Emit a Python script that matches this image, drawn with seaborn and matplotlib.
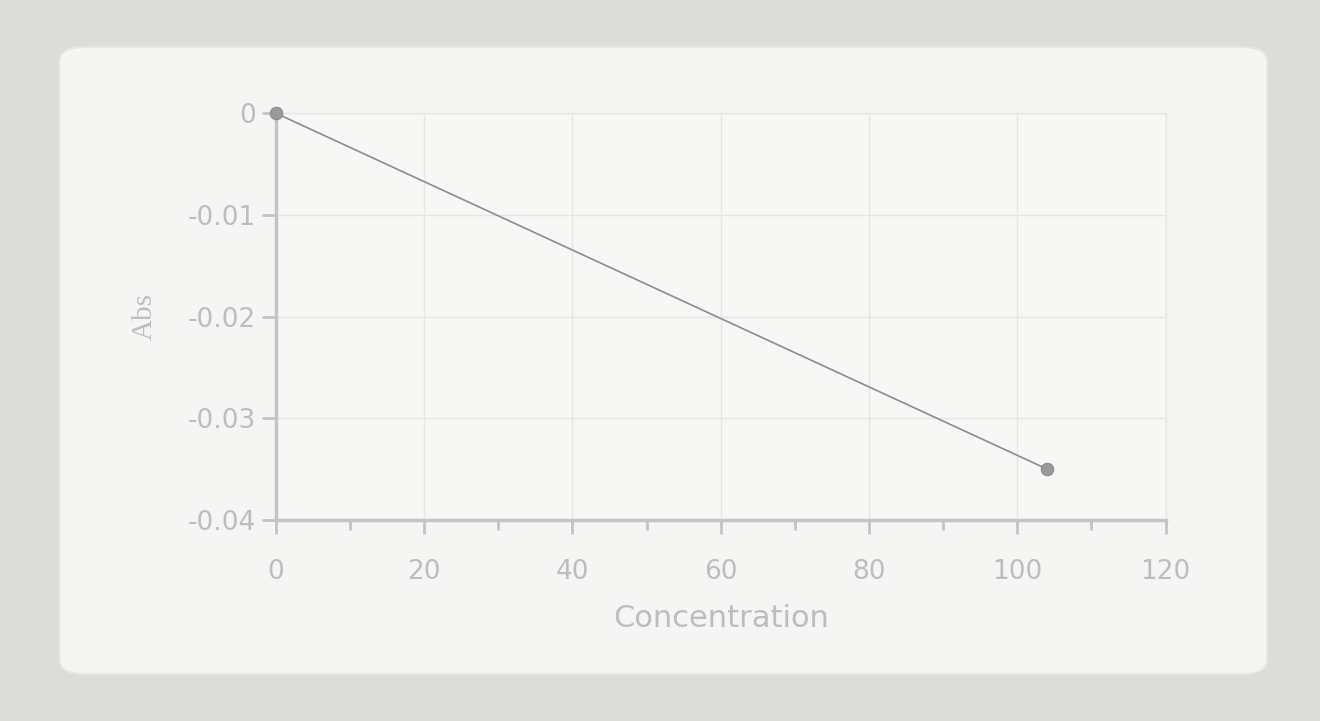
import matplotlib
matplotlib.use("Agg")
import matplotlib.pyplot as plt
from matplotlib.patches import FancyBboxPatch
from matplotlib.ticker import MultipleLocator
import seaborn as sns
import pandas as pd

concentration = [0, 104]
absorbance = [0.0, -0.035]
x_ticks = [0, 20, 40, 60, 80, 100, 120]
y_ticks = [0, -0.01, -0.02, -0.03, -0.04]
y_tick_labels = ["0", "-0.01", "-0.02", "-0.03", "-0.04"]

df = pd.DataFrame({"Concentration": concentration, "Abs": absorbance})

sns.set_theme(style="white")
plt.rcParams["font.family"] = ["DejaVu Sans"]

fig = plt.figure(figsize=(13.2, 7.21), dpi=100)
fig.patch.set_facecolor("#dcdcda")

bg = fig.add_axes([0, 0, 1, 1], zorder=0)
bg.set_axis_off()
bg.set_xlim(0, 1)
bg.set_ylim(0, 1)
panel = FancyBboxPatch((0.045, 0.065), 0.915, 0.87,
                       boxstyle="round,pad=0,rounding_size=0.02",
                       transform=bg.transAxes, facecolor="#f5f5f3",
                       edgecolor="#e6e6e4", linewidth=1.5)
bg.add_patch(panel)

ax = fig.add_axes([0.209, 0.279, 0.674, 0.564], zorder=2)
ax.set_facecolor("#f7f7f5")

sns.lineplot(data=df, x="Concentration", y="Abs", ax=ax, color="#8c8c8c",
             linewidth=1.2, marker="o", markersize=9, markeredgecolor="#8a8a8a",
             markerfacecolor="#9a9a9a", zorder=5, clip_on=False)

ax.set_xlim(0, 120)
ax.set_ylim(-0.04, 0)
ax.set_xticks(x_ticks)
ax.set_xticklabels([str(t) for t in x_ticks])
ax.xaxis.set_minor_locator(MultipleLocator(10))
ax.set_yticks(y_ticks)
ax.set_yticklabels(y_tick_labels)

grid_c = "#e6e6e4"
ax.grid(True, which="major", color=grid_c, linewidth=1.0)
for s in ["top", "right"]:
    ax.spines[s].set_visible(True)
    ax.spines[s].set_color(grid_c)
    ax.spines[s].set_linewidth(1.0)
for s in ["left", "bottom"]:
    ax.spines[s].set_color("#c4c4c4")
    ax.spines[s].set_linewidth(2.5)

tick_c = "#bdbdbd"
ax.tick_params(axis="both", which="major", direction="out", length=10, width=2,
               color="#c4c4c4", labelcolor=tick_c, labelsize=19, pad=4)
ax.tick_params(axis="x", which="minor", direction="out", length=7, width=2,
               color="#c4c4c4", bottom=True)
ax.tick_params(axis="x", which="major", pad=18)
ax.tick_params(axis="y", which="major", left=True)
ax.tick_params(axis="x", which="major", bottom=True)

ax.set_xlabel("Concentration", color=tick_c, fontsize=22, labelpad=14)
ax.set_ylabel("Abs", color=tick_c, fontsize=21, labelpad=22,
              family="Liberation Serif")

fig.savefig("out.png", dpi=100, facecolor=fig.get_facecolor())
